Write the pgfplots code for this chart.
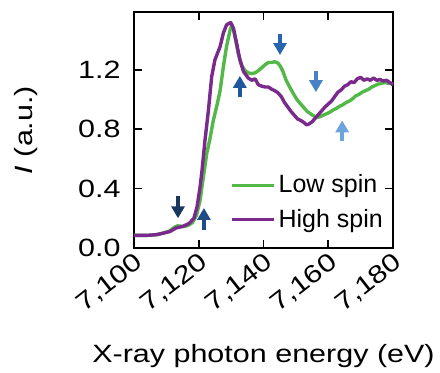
\documentclass[border=0pt]{standalone}
\usepackage{fontspec}
\setmainfont{Liberation Sans}[FakeStretch=1.22]
\newfontfamily\legendfont{Liberation Sans}
\usepackage{pgfplots}
\pgfplotsset{compat=1.18}
\usetikzlibrary{arrows.meta}
\definecolor{lowgreen}{RGB}{84,184,72}
\definecolor{highpurple}{RGB}{122,42,140}
\definecolor{arA}{RGB}{26,56,94}
\definecolor{arB}{RGB}{30,76,134}
\definecolor{arC}{RGB}{31,88,156}
\definecolor{arD}{RGB}{40,102,176}
\definecolor{arE}{RGB}{70,130,196}
\definecolor{arF}{RGB}{108,164,219}
\begin{document}
\begin{tikzpicture}[font=\fontsize{12.5}{15}\selectfont,
  sarrow/.style={line width=2pt, -{Triangle[width=6.5pt,length=6pt]}}]
\path[use as bounding box] (-67pt,-62pt) rectangle (153pt,124pt);
\begin{axis}[
  scale only axis, width=129.5pt, height=118pt,
  xmin=7100, xmax=7180, ymin=0, ymax=1.59,
  xtick={7100,7120,7140,7160,7180},
  xticklabels={{7,100},{7,120},{7,140},{7,160},{7,180}},
  ytick={0,0.4,0.8,1.2},
  yticklabels={0.0,0.4,0.8,1.2},
  tick align=inside, major tick length=4pt,
  axis line style={line width=0.8pt}, every tick/.style={line width=0.8pt, black},
  xticklabel style={rotate=38, anchor=north east, inner sep=1pt},
  yticklabel style={inner sep=0pt, xshift=-6.5pt},
  every axis x label/.style={at={(axis description cs:0.5,0)}, anchor=base, yshift=-57pt},
  every axis y label/.style={at={(axis description cs:-0.39,0.5)}, rotate=90, anchor=base},
  xlabel={X-ray photon energy (eV)},
  ylabel={\textit{I} (a.u.)},
  legend style={at={(axis description cs:0.37,0.193)}, anchor=west, draw=none, fill=none, inner sep=0pt, row sep=3.5pt, nodes={inner sep=1.5pt}, font=\legendfont\fontsize{12.5}{15}\selectfont},
  legend cell align=left,
  legend image code/.code={\draw[#1] (0pt,0pt) -- (17.5pt,0pt); \path (17.5pt,0pt) -- (21pt,0pt);},
  clip=false,
]
\addplot[lowgreen, line width=1.7pt, line join=round] coordinates {
(7100,0.085) (7104,0.085) (7107,0.09) (7109,0.10) (7111,0.115) (7112.5,0.14)
(7113.5,0.15) (7115,0.145) (7116.5,0.15) (7118,0.17) (7119.3,0.22) (7120.4,0.32)
(7121.5,0.49) (7122.5,0.64) (7123.5,0.74) (7124.5,0.86) (7125.5,0.95) (7126.6,1.06)
(7127.6,1.22) (7128.6,1.36) (7129.7,1.47) (7130.2,1.50) (7130.7,1.48) (7131.2,1.42)
(7132.2,1.31) (7133.3,1.23) (7134.3,1.195) (7135.3,1.18) (7136.4,1.175) (7137.4,1.18)
(7138.4,1.195) (7139.5,1.215) (7140.5,1.235) (7141.5,1.25) (7142.5,1.25) (7143.5,1.255)
(7144.5,1.245) (7145.2,1.225) (7146,1.19) (7147,1.13) (7148.2,1.08) (7149.5,1.03)
(7150.5,0.995) (7151.5,0.97) (7152.5,0.945) (7153.5,0.92) (7154.5,0.905) (7155.5,0.89)
(7156.5,0.88) (7157.5,0.885) (7158.5,0.895) (7159.5,0.905) (7160.5,0.915) (7161.5,0.93)
(7162.5,0.94) (7163.5,0.955) (7164.5,0.965) (7165.5,0.98) (7166.5,0.99) (7167.5,1.005)
(7168.5,1.025) (7169.5,1.035) (7170.5,1.05) (7171.5,1.06) (7172.5,1.07) (7173.5,1.085)
(7174.5,1.095) (7175.5,1.105) (7176.5,1.11) (7177.5,1.115) (7178.5,1.11) (7179.3,1.11)
(7180,1.10)
};
\addlegendentry{Low spin}
\addplot[highpurple, line width=1.7pt, line join=round] coordinates {
(7100,0.085) (7104,0.085) (7107,0.09) (7109,0.10) (7111,0.11) (7113,0.135)
(7115,0.145) (7117,0.165) (7118.5,0.20) (7119.5,0.28) (7120.4,0.41) (7121,0.52)
(7121.9,0.72) (7123,0.93) (7124,1.155) (7125,1.268) (7126.6,1.357) (7127.6,1.448)
(7128.6,1.504) (7129.9,1.519) (7130.7,1.48) (7131.7,1.38) (7132.7,1.268) (7133.8,1.19)
(7135.3,1.145) (7136.4,1.13) (7137.4,1.14) (7138.4,1.10) (7139.5,1.09) (7140.5,1.085)
(7141.5,1.085) (7142.5,1.07) (7143.5,1.06) (7144.5,1.045) (7145.5,1.02) (7146.5,0.98)
(7147.5,0.95) (7148.5,0.92) (7149.5,0.895) (7150.5,0.87) (7151.5,0.86) (7152.5,0.845)
(7153.3,0.83) (7154,0.835) (7155,0.85) (7156,0.875) (7157,0.90) (7158,0.925)
(7159,0.95) (7160,0.97) (7161,0.99) (7162,1.02) (7163,1.05) (7164,1.065)
(7165,1.09) (7166,1.10) (7167,1.12) (7168,1.115) (7169,1.14) (7170,1.15)
(7171,1.13) (7172,1.14) (7173,1.13) (7174,1.145) (7175,1.13) (7176,1.135)
(7177,1.125) (7178,1.13) (7179,1.115) (7180,1.10)
};
\addlegendentry{High spin}
\draw[sarrow, arA] (axis cs:7113.6,0.35) -- (axis cs:7113.6,0.20);
\draw[sarrow, arB] (axis cs:7121.6,0.12) -- (axis cs:7121.6,0.27);
\draw[sarrow, arC] (axis cs:7132.7,1.02) -- (axis cs:7132.7,1.16);
\draw[sarrow, arD] (axis cs:7145.1,1.44) -- (axis cs:7145.1,1.30);
\draw[sarrow, arE] (axis cs:7156.2,1.19) -- (axis cs:7156.2,1.05);
\draw[sarrow, arF] (axis cs:7164.3,0.72) -- (axis cs:7164.3,0.86);
\end{axis}
\end{tikzpicture}
\end{document}
